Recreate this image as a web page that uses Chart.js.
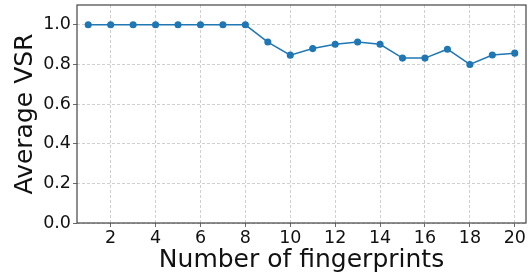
<!DOCTYPE html>
<html><head><meta charset="utf-8">
<script src="https://cdn.jsdelivr.net/npm/chart.js@4"></script>
<style>html,body{margin:0;padding:0;background:#fff}#w{width:532px;height:275px}</style>
</head><body><div id="w"><canvas id="c" width="532" height="275"></canvas></div>
<script>
const fingerprints = [1,2,3,4,5,6,7,8,9,10,11,12,13,14,15,16,17,18,19,20];
const avgVSR = [1.0,1.0,1.0,1.0,1.0,1.0,1.0,1.0,0.913,0.847,0.880,0.902,0.913,0.902,0.832,0.832,0.877,0.800,0.848,0.857];
const xTicks = [2,4,6,8,10,12,14,16,18,20];
const yTicks = [0.0,0.2,0.4,0.6,0.8,1.0];

const frame = {
  id:'frame',
  afterDatasetsDraw(ch){
    const a=ch.chartArea, c=ch.ctx;
    c.save(); c.strokeStyle='#444'; c.lineWidth=1.2;
    c.strokeRect(a.left,a.top,a.right-a.left,a.bottom-a.top);
    c.restore();
  }
};
const font='DejaVu Sans';
new Chart(document.getElementById('c'),{
  type:'line',
  data:{datasets:[{data:fingerprints.map((x,i)=>({x:x,y:avgVSR[i]})),
    borderColor:'#1f77b4',backgroundColor:'#1f77b4',borderWidth:1.5,pointRadius:2.8,pointHoverRadius:2.8,tension:0}]},
  options:{
    responsive:false,animation:false,devicePixelRatio:1,
    layout:{padding:{left:0,right:6,top:5,bottom:0}},
    plugins:{legend:{display:false},tooltip:{enabled:false}},
    scales:{
      x:{type:'linear',min:0.5,max:20.5,
        afterBuildTicks(s){s.ticks=xTicks.map(v=>({value:v}));},
        afterFit(s){s.height=52;s.paddingLeft=0;s.paddingRight=0;},
        border:{display:false,dash:[3,2]},
        grid:{color:'#c4c4c4',lineWidth:0.8,tickLength:4,tickColor:'#444',tickBorderDash:[],drawTicks:true},
        ticks:{font:{family:font,size:17.5},color:'#111',padding:1,maxRotation:0,callback:v=>String(v)},
        title:{display:true,text:'Number of fingerprints',font:{family:font,size:25},color:'#111',padding:{top:0,bottom:0}}
      },
      y:{type:'linear',min:0,max:1.1,
        afterBuildTicks(s){s.ticks=yTicks.map(v=>({value:v}));},
        afterFit(s){s.width=77;s.paddingTop=0;s.paddingBottom=0;},
        border:{display:false,dash:[3,2]},
        grid:{color:'#c4c4c4',lineWidth:0.8,tickLength:4,tickColor:'#444',tickBorderDash:[]},
        ticks:{font:{family:font,size:17.5},color:'#111',padding:2,callback:v=>v.toFixed(1)},
        title:{display:true,text:'Average VSR',font:{family:font,size:25},color:'#111',padding:{top:10,bottom:0}}
      }
    }
  },
  plugins:[frame]
});
</script></body></html>
